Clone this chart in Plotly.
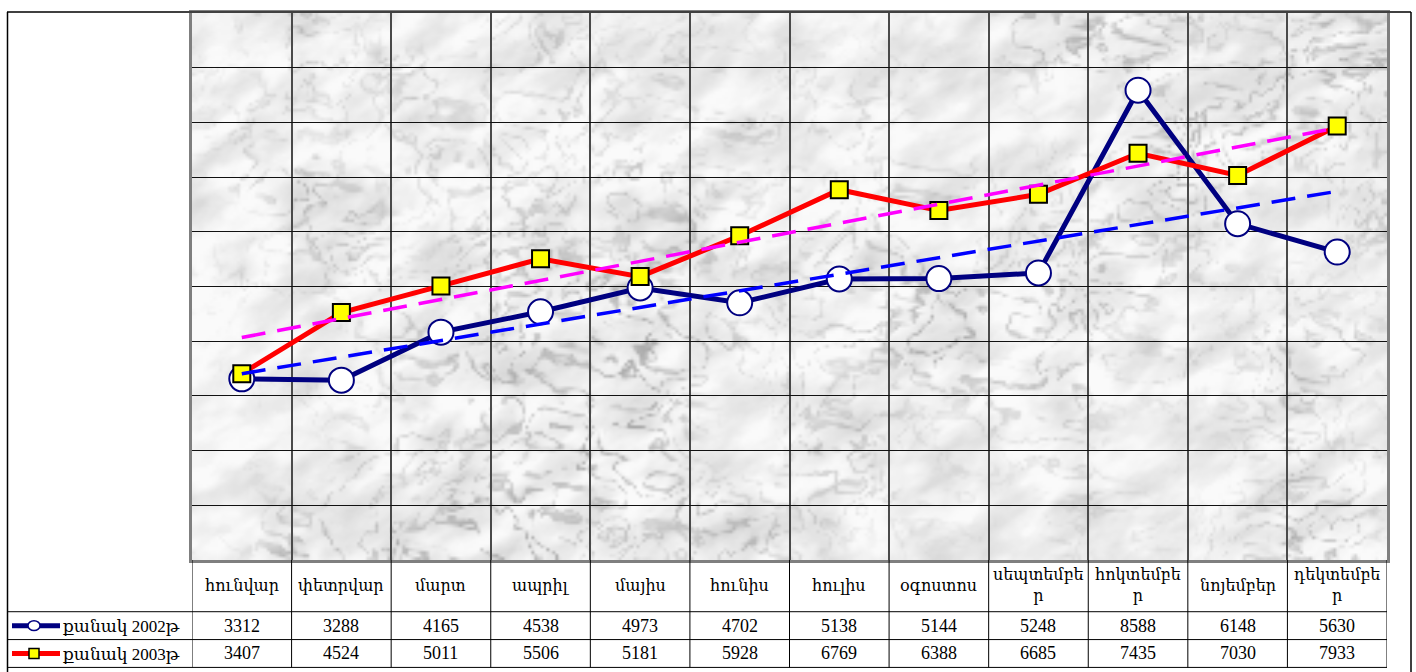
import base64
import struct
import zlib

import numpy as np
import plotly.graph_objects as go

# ---- data -------------------------------------------------------------
months = ["հունվար", "փետրվար", "մարտ", "ապրիլ", "մայիս", "հունիս",
          "հուլիս", "օգոստոս", "սեպտեմբե<br>ր", "հոկտեմբե<br>ր",
          "նոյեմբեր", "դեկտեմբե<br>ր"]
series_names = ["քանակ 2002թ", "քանակ 2003թ"]
qty_2002 = [3312, 3288, 4165, 4538, 4973, 4702, 5138, 5144, 5248, 8588, 6148, 5630]
qty_2003 = [3407, 4524, 5011, 5506, 5181, 5928, 6769, 6388, 6685, 7435, 7030, 7933]

# ---- geometry of the figure (pixels) ------------------------------------
W, H = 1416, 672
L, R, T, B = 192, 29, 10, 112
PW, PH = W - L - R, H - T - B


def xp(px):
    return (px - L) / PW


def yp(py):
    return (T + PH - py) / PH


# ---- marble background texture ----------------------------------------
def _hash(ix, iy, seed):
    v = np.sin(ix * 127.1 + iy * 311.7 + seed * 74.7) * 43758.5453
    return v - np.floor(v)


def value_noise(x, y, seed):
    ix, iy = np.floor(x), np.floor(y)
    fx, fy = x - ix, y - iy
    ux, uy = fx * fx * (3 - 2 * fx), fy * fy * (3 - 2 * fy)
    a = _hash(ix, iy, seed)
    b = _hash(ix + 1, iy, seed)
    c = _hash(ix, iy + 1, seed)
    d = _hash(ix + 1, iy + 1, seed)
    return a + (b - a) * ux + (c - a) * uy + (a - b - c + d) * ux * uy


def fbm(x, y, seed, octaves=5):
    total, amp, f, norm = 0.0, 0.5, 1.0, 0.0
    for o in range(octaves):
        total = total + amp * value_noise(x * f, y * f, seed + o)
        norm += amp
        amp *= 0.5
        f *= 2.0
    return total / norm


def marble(w, h, scale):
    yy, xx = np.mgrid[0:h, 0:w].astype(float) * scale
    # diagonal streaking
    u = (xx * 0.85 - yy * 0.5) / 45.0
    v = (xx * 0.5 + yy * 0.85) / 22.0
    blot = fbm(u, v, 1, octaves=4)
    warp = fbm(xx / 70.0, yy / 70.0, 11, octaves=4)
    n = fbm((xx * 0.9 - yy * 0.4) / 55.0 + 2.0 * warp,
            (xx * 0.4 + yy * 0.9) / 40.0 + 2.0 * warp, 21, octaves=4)
    vein = np.exp(-(np.sin(n * np.pi * 5.0) / 0.33) ** 2)
    strength = np.clip((fbm(xx / 110.0, yy / 110.0, 31) - 0.3) * 2.0, 0, 1)
    g = 240 + (blot - 0.5) * 60 - 62 * vein * strength
    return np.clip(g, 160, 250).astype(np.uint8)


def png_gray(arr):
    h, w = arr.shape
    raw = b"".join(b"\x00" + arr[i].tobytes() for i in range(h))

    def chunk(tag, data):
        body = tag + data
        return (struct.pack(">I", len(data)) + body
                + struct.pack(">I", zlib.crc32(body) & 0xFFFFFFFF))

    ihdr = struct.pack(">IIBBBBB", w, h, 8, 0, 0, 0, 0)
    return (b"\x89PNG\r\n\x1a\n" + chunk(b"IHDR", ihdr)
            + chunk(b"IDAT", zlib.compress(raw, 9)) + chunk(b"IEND", b""))


tex = marble(PW // 3, PH // 3, 3.0)
tex_uri = "data:image/png;base64," + base64.b64encode(png_gray(tex)).decode()

# ---- traces -------------------------------------------------------------
x_idx = list(range(len(months)))
c2002, c2003 = "#000080", "#FF0000"

fig = go.Figure()
fig.add_trace(go.Scatter(
    x=x_idx, y=qty_2002, name=series_names[0], mode="lines+markers",
    line=dict(color=c2002, width=5),
    marker=dict(symbol="circle", size=25, color="white",
                line=dict(color=c2002, width=2)),
))
fig.add_trace(go.Scatter(
    x=x_idx, y=qty_2003, name=series_names[1], mode="lines+markers",
    line=dict(color=c2003, width=5),
    marker=dict(symbol="square", size=17, color="#FFFF00",
                line=dict(color="black", width=2)),
))

# linear trend lines
for vals, col in ((qty_2002, "#0000FF"), (qty_2003, "#FF00FF")):
    k, b0 = np.polyfit(x_idx, vals, 1)
    fig.add_trace(go.Scatter(
        x=[x_idx[0], x_idx[-1]], y=[b0 + k * x_idx[0], b0 + k * x_idx[-1]],
        mode="lines", line=dict(color=col, width=3.5, dash="24px,12px"),
        hoverinfo="skip",
    ))

# ---- layout -------------------------------------------------------------
fig.update_layout(
    width=W, height=H, margin=dict(l=L, r=R, t=T, b=B),
    paper_bgcolor="white", plot_bgcolor="rgba(0,0,0,0)",
    showlegend=False,
    xaxis=dict(range=[-0.5, len(months) - 0.5],
               tickvals=[i - 0.5 for i in range(len(months) + 1)],
               showticklabels=False, ticks="", showgrid=True,
               gridcolor="#4a4a4a", gridwidth=1.6, zeroline=False,
               showline=True, linecolor="#7f7f7f", linewidth=3, mirror=True),
    yaxis=dict(range=[0, 10000], tick0=0, dtick=1000, showticklabels=False,
               ticks="", showgrid=True, gridcolor="#111111", gridwidth=1,
               zeroline=False, showline=True, linecolor="#7f7f7f",
               linewidth=3, mirror=True),
    images=[dict(source=tex_uri, xref="paper", yref="paper", x=0, y=1,
                 sizex=1, sizey=1, sizing="stretch", layer="below",
                 xanchor="left", yanchor="top")],
)

shapes = []
line_k = dict(color="black", width=1)

# outer frame
shapes.append(dict(type="line", xref="paper", yref="paper",
                   x0=xp(7), x1=xp(1411), y0=yp(9), y1=yp(9),
                   line=dict(color="#404040", width=2)))
for px in (7.5, 1411):
    shapes.append(dict(type="line", xref="paper", yref="paper",
                       x0=xp(px), x1=xp(px), y0=yp(9), y1=yp(H + 2),
                       line=dict(color="black", width=1.5)))

# data table grid
row_lines = [612, 640, 668]
for py in row_lines:
    shapes.append(dict(type="line", xref="paper", yref="paper",
                       x0=xp(8), x1=1, y0=yp(py), y1=yp(py), line=line_k))
for i in range(len(months) + 1):
    shapes.append(dict(type="line", xref="x", yref="paper",
                       x0=i - 0.5, x1=i - 0.5, y0=0, y1=yp(668), line=line_k))

# legend keys inside the table
key_rows = [(626, c2002), (654, c2003)]
for (py, col) in key_rows:
    shapes.append(dict(type="line", xref="paper", yref="paper",
                       x0=xp(12), x1=xp(60), y0=yp(py), y1=yp(py),
                       line=dict(color=col, width=5)))
shapes.append(dict(type="circle", xref="paper", yref="paper",
                   x0=xp(28), x1=xp(40), y0=yp(631), y1=yp(621),
                   fillcolor="white", line=dict(color=c2002, width=1.5)))
shapes.append(dict(type="rect", xref="paper", yref="paper",
                   x0=xp(29), x1=xp(39), y0=yp(659), y1=yp(649),
                   fillcolor="#FFFF00", line=dict(color="black", width=1.5)))
fig.update_layout(shapes=shapes)

# table text
serif = "Liberation Serif, DejaVu Serif, serif"
font_txt = dict(family=serif, size=18, color="black")
font_hdr = dict(family=serif, size=16, color="black")
font_key = dict(family=serif, size=17, color="black")
ann = []
for i, m in enumerate(months):
    ann.append(dict(x=i, y=yp(586), xref="x", yref="paper", text=m,
                    showarrow=False, font=font_hdr, xanchor="center",
                    yanchor="middle"))
    ann.append(dict(x=i, y=yp(626), xref="x", yref="paper",
                    text=str(qty_2002[i]), showarrow=False, font=font_txt,
                    xanchor="center", yanchor="middle"))
    ann.append(dict(x=i, y=yp(654), xref="x", yref="paper",
                    text=str(qty_2003[i]), showarrow=False, font=font_txt,
                    xanchor="center", yanchor="middle"))
for name, (py, _) in zip(series_names, key_rows):
    ann.append(dict(x=xp(61), y=yp(py + 1), xref="paper", yref="paper",
                    text=name, showarrow=False, font=font_key,
                    xanchor="left", yanchor="middle"))
fig.update_layout(annotations=ann)

fig.write_html("out.html")
